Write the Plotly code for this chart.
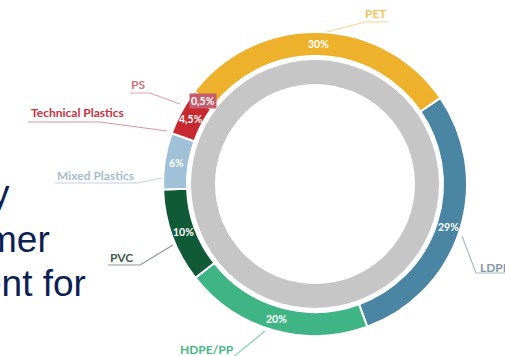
import math
import plotly.graph_objects as go

# ---------------- data ----------------
categories = ["LDPE", "HDPE/PP", "PVC", "Mixed Plastics", "Technical Plastics", "PS", "PET"]
values = [29, 20, 10, 6, 4.5, 0.5, 30]
pct_labels = ["29%", "20%", "10%", "6%", "4,5%", "0,5%", "30%"]
slice_colors = ["#4A86A3", "#3FB585", "#115A38", "#A0C1D8", "#C8282F", "#C65C6C", "#EDB12C"]
label_colors = ["#7F98AA", "#48B889", "#44594F", "#A6BDCF", "#C8323D", "#CF7382", "#F1C45E"]
line_colors = ["#A9B9C4", "#8CD2B2", "#8D9892", "#C3D2DE", "#DE959C", "#E2A3AD", "#F5D692"]
left_text = ["y", "mer", "ent for"]

W, H = 505, 356
CX, CY = 315, 184          # donut centre (px)
R_OUT, R_IN = 152, 128     # coloured ring
R_G_OUT, R_G_IN = 124, 100  # grey ring
ROTATION = 55.5


def px(x, y):
    return x / W, 1 - y / H


fig = go.Figure()

# grey inner ring
fig.add_trace(go.Pie(
    values=[1], labels=["base"], sort=False, hole=R_G_IN / R_G_OUT,
    marker=dict(colors=["#C6C6C6"], line=dict(width=0)),
    textinfo="none", hoverinfo="skip", showlegend=False,
    domain=dict(x=[(CX - R_G_OUT) / W, (CX + R_G_OUT) / W],
                y=[1 - (CY + R_G_OUT) / H, 1 - (CY - R_G_OUT) / H]),
))

# coloured outer ring
fig.add_trace(go.Pie(
    values=values, labels=categories, sort=False, direction="clockwise",
    rotation=ROTATION, hole=R_IN / R_OUT,
    marker=dict(colors=slice_colors, line=dict(color="white", width=2)),
    textinfo="none", showlegend=False,
    domain=dict(x=[(CX - R_OUT) / W, (CX + R_OUT) / W],
                y=[1 - (CY + R_OUT) / H, 1 - (CY - R_OUT) / H]),
))

annotations = []
shapes = []

# percentage labels at the middle of each slice
total = sum(values)
cum = 0.0
r_mid = (R_OUT + R_IN) / 2
for v, t, c in zip(values, pct_labels, slice_colors):
    a = math.radians(ROTATION + (cum + v / 2) / total * 360)
    cum += v
    x, y = px(CX + r_mid * math.sin(a), CY - r_mid * math.cos(a))
    small = v < 1
    annotations.append(dict(
        x=x, y=y, xref="paper", yref="paper", text=f"<b>{t}</b>", showarrow=False,
        xanchor="center", yanchor="middle",
        font=dict(family="Lato", size=10.5, color="white"),
        bgcolor=c if small else None, borderpad=1,
    ))

# outside labels with leader lines
label_pos = {
    "PET": ((376, 14), "center", [(327, 32), (365, 22), (389, 22)]),
    "LDPE": ((478, 267), "left", [(462, 236), (476, 273), (505, 273)]),
    "HDPE/PP": ((207, 349), "center", [(265, 331), (232, 358)]),
    "PVC": ((121, 257), "center", [(173, 245), (140, 265), (108, 265)]),
    "Mixed Plastics": ((95, 175), "center", [(162, 178), (137, 183), (55, 183)]),
    "Technical Plastics": ((77, 113), "center", [(167, 131), (100, 122), (28, 122)]),
    "PS": ((138, 85), "center", [(180, 104), (150, 93), (130, 93)]),
}
for cat, lc, ln in zip(categories, label_colors, line_colors):
    (tx, ty), anchor, pts = label_pos[cat]
    x, y = px(tx, ty)
    annotations.append(dict(
        x=x, y=y, xref="paper", yref="paper", text=f"<b>{cat}</b>", showarrow=False,
        xanchor=anchor, yanchor="middle",
        font=dict(family="Lato", size=12, color=lc),
    ))
    path = ""
    for i, (a, b) in enumerate(pts):
        xx, yy = px(a, b)
        path += ("M" if i == 0 else "L") + f"{xx},{yy} "
    shapes.append(dict(type="path", xref="paper", yref="paper", path=path.strip(),
                       line=dict(color=ln, width=1.2)))

# cut-off slide text on the left
left_pos = [(12, 193), (52, 239), (88, 283)]
for t, (x0, y0) in zip(left_text, left_pos):
    x, y = px(x0, y0)
    annotations.append(dict(
        x=x, y=y, xref="paper", yref="paper", text=t, showarrow=False,
        xanchor="right", yanchor="middle",
        font=dict(family="Liberation Sans", size=37, color="#0C2152"),
    ))

fig.update_layout(
    width=W, height=H, margin=dict(l=0, r=0, t=0, b=0),
    paper_bgcolor="white", plot_bgcolor="white",
    annotations=annotations, shapes=shapes, showlegend=False,
)

fig.write_html("out.html")
